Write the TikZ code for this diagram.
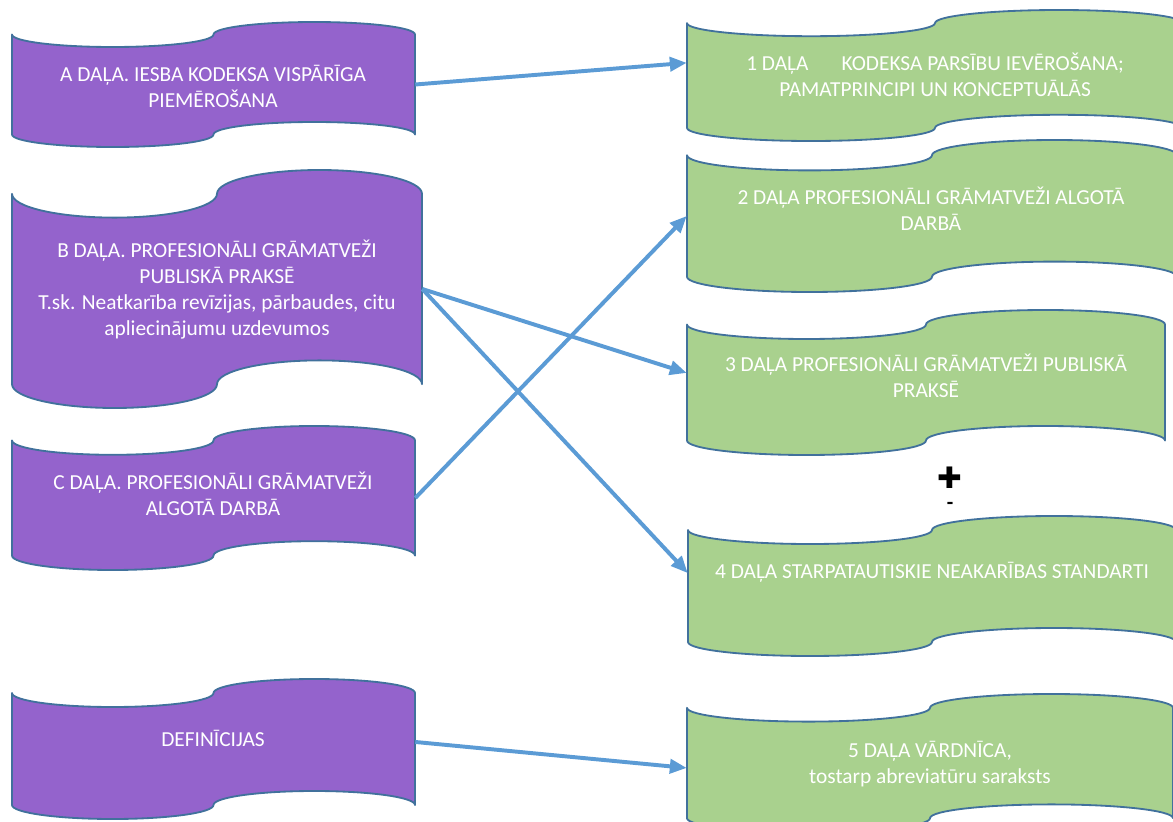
\documentclass[tikz,border=0pt]{standalone}
\usepackage{fontspec}
\setmainfont{Carlito}
\newfontfamily\symfont{DejaVu Sans}
\usetikzlibrary{arrows.meta,fit}
\definecolor{tapepurple}{RGB}{148,99,204}
\definecolor{tapegreen}{RGB}{169,209,142}
\definecolor{tapeedge}{RGB}{65,113,156}
\definecolor{linkblue}{RGB}{91,155,213}

% punched tape box: #1 name, #2 x0, #3 y0, #4 width, #5 height, #6 fill
\newcommand{\tape}[6]{%
  \pgfmathsetmacro{\tpl}{#2}
  \pgfmathsetmacro{\tpq}{#2+#4/4}
  \pgfmathsetmacro{\tpm}{#2+#4/2}
  \pgfmathsetmacro{\tpt}{#2+3*#4/4}
  \pgfmathsetmacro{\tpr}{#2+#4}
  \pgfmathsetmacro{\tpkx}{0.5523*#4/4}
  \pgfmathsetmacro{\tpky}{0.5523*#5/10}
  \pgfmathsetmacro{\tptop}{#3}
  \pgfmathsetmacro{\tpu}{#3+#5/10}
  \pgfmathsetmacro{\tpv}{#3+#5/5}
  \pgfmathsetmacro{\tpw}{#3+4*#5/5}
  \pgfmathsetmacro{\tpb}{#3+9*#5/10}
  \pgfmathsetmacro{\tpbot}{#3+#5}
  \draw[tape, fill=#6] (\tpl,\tpu)
    .. controls (\tpl,\tpu+\tpky) and (\tpq-\tpkx,\tpv) .. (\tpq,\tpv)
    .. controls (\tpq+\tpkx,\tpv) and (\tpm,\tpu+\tpky) .. (\tpm,\tpu)
    .. controls (\tpm,\tpu-\tpky) and (\tpt-\tpkx,\tptop) .. (\tpt,\tptop)
    .. controls (\tpt+\tpkx,\tptop) and (\tpr,\tpu-\tpky) .. (\tpr,\tpu)
    -- (\tpr,\tpb)
    .. controls (\tpr,\tpb-\tpky) and (\tpt+\tpkx,\tpw) .. (\tpt,\tpw)
    .. controls (\tpt-\tpkx,\tpw) and (\tpm,\tpb-\tpky) .. (\tpm,\tpb)
    .. controls (\tpm,\tpb+\tpky) and (\tpq+\tpkx,\tpbot) .. (\tpq,\tpbot)
    .. controls (\tpq-\tpkx,\tpbot) and (\tpl,\tpb+\tpky) .. (\tpl,\tpb)
    -- cycle;
  \coordinate (#1-nw) at (\tpl,\tptop);
  \coordinate (#1-se) at (\tpr,\tpbot);
  \node[fit=(#1-nw)(#1-se), inner sep=0pt] (#1) {};
}

\begin{document}
\begin{tikzpicture}[x=0.025cm, y=-0.025cm,
    tape/.style={draw=tapeedge, line width=1.3pt, line join=round},
    lbl/.style={text=white, align=center, inner sep=0pt,
      font=\fontsize{15.2}{18.5}\selectfont},
    link/.style={draw=linkblue, line width=2.8pt,
      -{Triangle[length=12pt,width=10pt]}}]
    \useasboundingbox (0,0) rectangle (1173,822);
    \clip (0,0) rectangle (1173,822);

    % left column
    \tape{A}{12}{22}{403}{125}{tapepurple}
    \tape{B}{12}{170}{410}{238}{tapepurple}
    \tape{C}{12}{426}{403}{144}{tapepurple}
    \tape{D}{12}{679}{403}{140}{tapepurple}
    \node[lbl] (A-t) at (213,86) {A DAĻA. IESBA KODEKSA VISPĀRĪGA\\PIEMĒROŠANA};
    \node[lbl] (B-t) at (217,290) {B DAĻA. PROFESIONĀLI GRĀMATVEŽI\\PUBLISKĀ PRAKSĒ\\T.sk. Neatkarība revīzijas, pārbaudes, citu\\apliecinājumu uzdevumos};
    \node[lbl] (C-t) at (213,494) {C DAĻA. PROFESIONĀLI GRĀMATVEŽI\\ALGOTĀ DARBĀ};
    \node[lbl] (D-t) at (213,738) {DEFINĪCIJAS};

    % right column
    \tape{p1}{687}{10}{496}{131}{tapegreen}
    \tape{p2}{687}{140}{490}{152}{tapegreen}
    \tape{p3}{687}{310}{478}{145}{tapegreen}
    \tape{p4}{688}{516}{488}{140}{tapegreen}
    \tape{p5}{687}{694}{486}{138}{tapegreen}
    \node[lbl] (p1-t) at (935,75) {1 DAĻA\hspace{1.55em}KODEKSA PARSĪBU IEVĒROŠANA;\\PAMATPRINCIPI UN KONCEPTUĀLĀS};
    \node[lbl] (p2-t) at (931,209) {2 DAĻA PROFESIONĀLI GRĀMATVEŽI ALGOTĀ\\DARBĀ};
    \node[lbl] (p3-t) at (926,376) {3 DAĻA PROFESIONĀLI GRĀMATVEŽI PUBLISKĀ\\PRAKSĒ};
    \node[lbl] (p4-t) at (932,572) {4 DAĻA STARPATAUTISKIE NEAKARĪBAS STANDARTI};
    \node[lbl] (p5-t) at (930,764) {5 DAĻA VĀRDNĪCA,\\tostarp abreviatūru saraksts};

    \node[inner sep=0pt, font=\symfont\fontsize{21}{21}\selectfont] (plus) at (950,478) {✚};
    \node[inner sep=0pt, font=\bfseries\fontsize{15}{15}\selectfont] (minus) at (950,506) {-};

    % links
    \draw[link] (A.east) -- ([yshift=9pt]p1.west);
    \draw[link] (B.east) -- ([yshift=6.8pt]p3.west);
    \draw[link] (B.east) -- ([yshift=9.2pt]p4.west);
    \draw[link] (C.east) -- (p2.west);
    \draw[link] ([yshift=5pt]D.east) -- ([yshift=-3.5pt]p5.west);
\end{tikzpicture}
\end{document}
